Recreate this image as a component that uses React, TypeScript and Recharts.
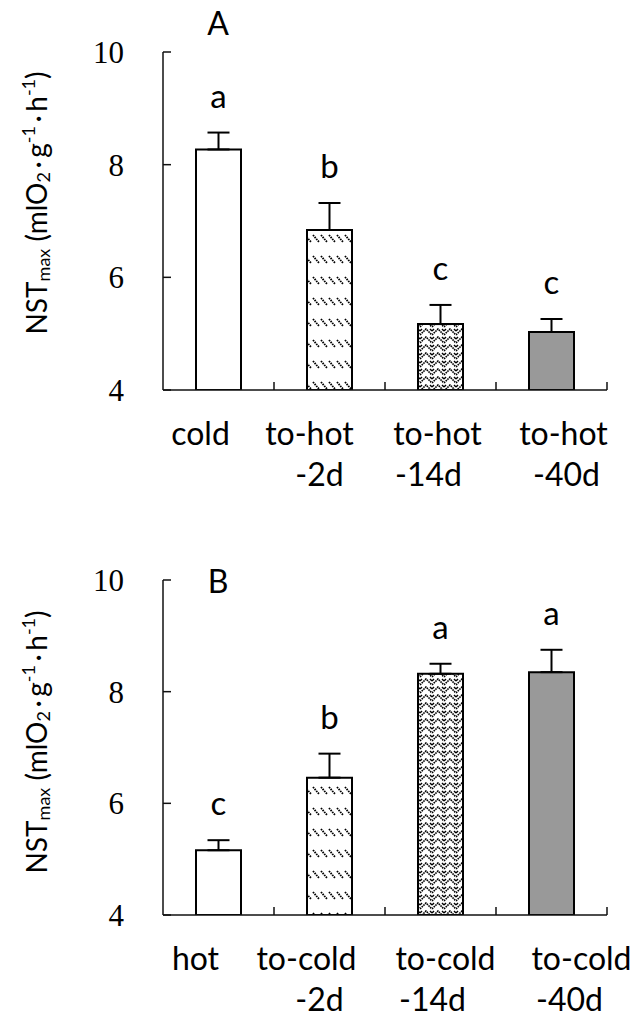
import React from 'react';
import { ComposedChart, Bar, Cell, ErrorBar, Scatter, XAxis, YAxis } from 'recharts';

// panel A: cold-acclimated animals moved to hot
const catsA = ['cold', 'to-hot\n-2d', 'to-hot\n-14d', 'to-hot\n-40d'];
const meansA = [8.27, 6.84, 5.17, 5.03];
const errsA = [0.30, 0.48, 0.34, 0.23];
const lettersA = ['a', 'b', 'c', 'c'];

// panel B: hot-acclimated animals moved to cold
const catsB = ['hot', 'to-cold\n-2d', 'to-cold\n-14d', 'to-cold\n-40d'];
const meansB = [5.16, 6.46, 8.32, 8.35];
const errsB = [0.18, 0.43, 0.18, 0.40];
const lettersB = ['c', 'b', 'a', 'a'];

const yTicks = [4, 6, 8, 10];

const W = 639;
const LEFT = 163;
const RIGHT = 32;
const BAND = (W - LEFT - RIGHT) / 4;
const SANS = 'Lato, sans-serif';
const SERIF = '"Liberation Serif", serif';

// label nudges, copied from the figure (line 1 / line 2)
const shiftA = [[-18, 0], [-20, -10], [-3, -12], [12, 15]];
const shiftB = [[-23, 0], [-23, -10], [5, -8], [30, 18]];

function XTick(props: any) {
  const { x, y, payload, index, shifts } = props;
  const [l1, l2] = String(payload.value).split('\n');
  const s = shifts[index] || [0, 0];
  return (
    <g>
      <line x1={x + BAND / 2} x2={x + BAND / 2} y1={y} y2={y - 8} stroke="#111" strokeWidth={1.5} />
      <text x={x + s[0]} y={y + 55} textAnchor="middle" fontFamily={SANS} fontSize={32} fill="#000">{l1}</text>
      {l2 && (
        <text x={x + s[1]} y={y + 96} textAnchor="middle" fontFamily={SANS} fontSize={32} fill="#000">{l2}</text>
      )}
    </g>
  );
}

function Letter(props: any) {
  const { cx, cy, payload } = props;
  return (
    <text x={cx} y={cy - 25} textAnchor="middle" fontFamily={SANS} fontSize={33} fill="#000">
      {payload.letter}
    </text>
  );
}

function YLabel({ cx, cy }: { cx: number; cy: number }) {
  return (
    <text x={cx} y={cy} transform={`rotate(-90, ${cx}, ${cy})`} textAnchor="middle" fontFamily={SANS} fontSize={28} fill="#000">
      <tspan>NST</tspan>
      <tspan fontSize={18} dy={3}>max</tspan>
      <tspan dy={-3}> (mlO</tspan>
      <tspan fontSize={18} dy={3}>2</tspan>
      <tspan dy={-3}>{'\u2009·\u2009'}g</tspan>
      <tspan fontSize={18} dy={-12}>-1</tspan>
      <tspan dy={12}>{'\u2009·\u2009'}h</tspan>
      <tspan fontSize={18} dy={-12}>-1</tspan>
      <tspan dy={12}>)</tspan>
    </text>
  );
}

interface PanelProps {
  id: string;
  title: string;
  cats: string[];
  means: number[];
  errs: number[];
  letters: string[];
  shifts: number[][];
  height: number;
  top: number;
  bottom: number;
  titleY: number;
  labelY: number;
}

function Panel({ id, title, cats, means, errs, letters, shifts, height, top, bottom, titleY, labelY }: PanelProps) {
  const data = cats.map((c, i) => ({
    cat: c,
    mean: means[i],
    err: [0, errs[i]],
    top: means[i] + errs[i],
    letter: letters[i],
  }));
  const fills = ['#ffffff', `url(#${id}-dash)`, `url(#${id}-weave)`, '#999999'];

  return (
    <ComposedChart width={W} height={height} data={data} margin={{ top, right: RIGHT, bottom, left: LEFT - 80 }}>
      <defs>
        <pattern id={`${id}-dash`} width={8} height={21} patternUnits="userSpaceOnUse">
          <rect width={8} height={21} fill="#fff" />
          <line x1={1} y1={4} x2={7} y2={11} stroke="#000" strokeWidth={1.8} strokeDasharray="1.6 0.9" />
        </pattern>
        <pattern id={`${id}-weave`} width={12} height={8} patternUnits="userSpaceOnUse">
          <rect width={12} height={8} fill="#fff" />
          <polyline points="0,7 6,1 12,7" fill="none" stroke="#000" strokeWidth={1.6} strokeDasharray="1.6 0.8" />
          <polyline points="0,3 2,1" fill="none" stroke="#000" strokeWidth={1.4} />
          <polyline points="10,1 12,3" fill="none" stroke="#000" strokeWidth={1.4} />
        </pattern>
      </defs>
      <XAxis
        dataKey="cat"
        height={100}
        interval={0}
        tickSize={0}
        tickMargin={0}
        tickLine={false}
        axisLine={{ stroke: '#111', strokeWidth: 1.5 }}
        tick={<XTick shifts={shifts} />}
      />
      <YAxis
        width={80}
        domain={[4, 10]}
        ticks={yTicks}
        allowDataOverflow
        tickSize={-8}
        tickMargin={47}
        axisLine={{ stroke: '#111', strokeWidth: 1.5 }}
        tickLine={{ stroke: '#111', strokeWidth: 1.5 }}
        tick={{ fontFamily: SERIF, fontSize: 31, fill: '#000' }}
      />
      <Bar dataKey="mean" barSize={45} stroke="#000" strokeWidth={2} isAnimationActive={false}>
        {data.map((d, i) => (
          <Cell key={d.cat} fill={fills[i]} />
        ))}
        <ErrorBar dataKey="err" width={11} stroke="#000" strokeWidth={2} direction="y" isAnimationActive={false} />
      </Bar>
      <Scatter dataKey="top" shape={<Letter />} isAnimationActive={false} legendType="none" />
      <text x={218} y={titleY} textAnchor="middle" fontFamily={SANS} fontSize={32} fill="#000">{title}</text>
      <YLabel cx={47} cy={labelY} />
    </ComposedChart>
  );
}

export default function App() {
  return (
    <div style={{ width: W, height: 1021, marginLeft: -8, marginTop: -8, background: '#fff', position: 'relative' }}>
      <Panel
        id="pa"
        title="A"
        cats={catsA}
        means={meansA}
        errs={errsA}
        letters={lettersA}
        shifts={shiftA}
        height={510}
        top={52}
        bottom={20}
        titleY={35}
        labelY={203}
      />
      <Panel
        id="pb"
        title="B"
        cats={catsB}
        means={meansB}
        errs={errsB}
        letters={lettersB}
        shifts={shiftB}
        height={511}
        top={70}
        bottom={6}
        titleY={83}
        labelY={232}
      />
    </div>
  );
}
